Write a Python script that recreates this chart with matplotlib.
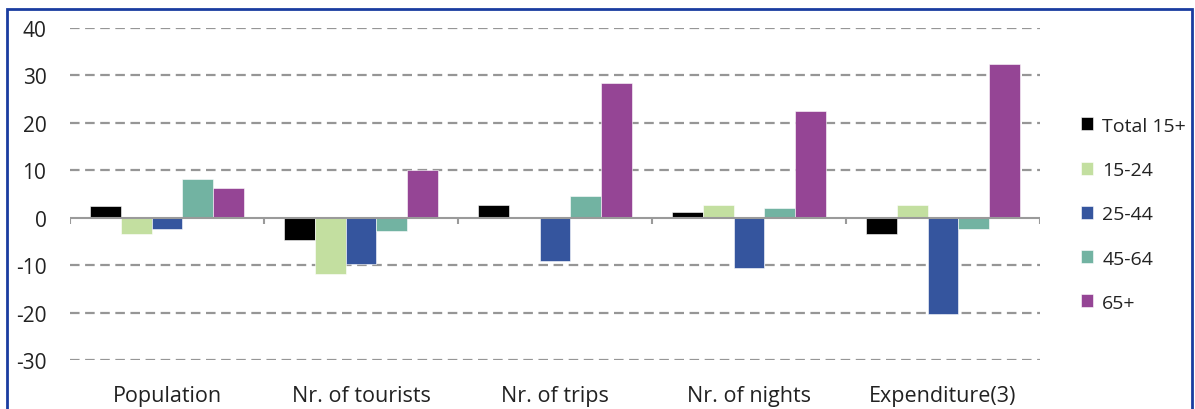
import matplotlib
matplotlib.use("Agg")
import matplotlib.pyplot as plt
from matplotlib.patches import Rectangle
import numpy as np

categories = ["Population", "Nr. of tourists", "Nr. of trips", "Nr. of nights", "Expenditure(3)"]
series_names = ["Total 15+", "15-24", "25-44", "45-64", "65+"]
total_15 = [2.5, -4.7, 2.6, 1.3, -3.4]
age_15_24 = [-3.5, -11.8, 0.0, 2.6, 2.6]
age_25_44 = [-2.3, -9.7, -9.2, -10.5, -20.3]
age_45_64 = [8.2, -2.8, 4.6, 2.1, -2.3]
age_65 = [6.2, 10.0, 28.4, 22.6, 32.4]
yticks = [-30, -20, -10, 0, 10, 20, 30, 40]
colors = ["#000000", "#C3DFA0", "#35559E", "#72B3A2", "#954595"]

plt.rcParams['font.family'] = ['Open Sans', 'DejaVu Sans']

fig = plt.figure(figsize=(11.95, 4.10), dpi=100)
ax = fig.add_axes([70/1195, 49/410, 970/1195, 332/410])

series = [total_15, age_15_24, age_25_44, age_45_64, age_65]
n = len(categories)
x = np.arange(n)
bw = 0.158
for i, (vals, c, name) in enumerate(zip(series, colors, series_names)):
    ax.bar(x + (i - 2) * bw, vals, width=bw, color=c, label=name, zorder=3,
           edgecolor="white", linewidth=0.4)

ax.set_xlim(-0.5, n - 0.5)
ax.set_ylim(-30, 40)
for y in yticks:
    if y != 0:
        ax.axhline(y, color="#969696", lw=1.6, ls=(0, (4.3, 2.5)), zorder=1)
ax.axhline(0, color="#9a9a9a", lw=1.5, zorder=4)
# tick marks at category boundaries
for b in np.arange(n + 1) - 0.5:
    ax.plot([b, b], [0, -1.4], color="#9a9a9a", lw=1.5, zorder=4, solid_capstyle="butt")

for s in ax.spines.values():
    s.set_visible(False)
ax.set_xticks([])
ax.set_yticks(yticks)
ax.set_yticklabels([str(v) for v in yticks], fontsize=15, color="#222222")
ax.tick_params(axis="y", length=0, pad=17)

for i, c in enumerate(categories):
    ax.text(i, -0.108, c, transform=ax.get_xaxis_transform(), ha="center", va="center",
            fontsize=15.5, color="#222222")

leg = fig.legend(loc="upper left", bbox_to_anchor=(1073/1195, 300/410), frameon=False,
                 fontsize=14, handlelength=0.65, handleheight=0.65, handletextpad=0.45,
                 labelspacing=1.35, borderaxespad=0)
for t in leg.get_texts():
    t.set_color("#222222")

fig.patches.append(Rectangle((7/1195, -0.1), 1185/1195, (410 - 10)/410 + 0.1,
                             transform=fig.transFigure, fill=False,
                             edgecolor="#1A3CA0", lw=2))

fig.savefig("out.png", dpi=100)
